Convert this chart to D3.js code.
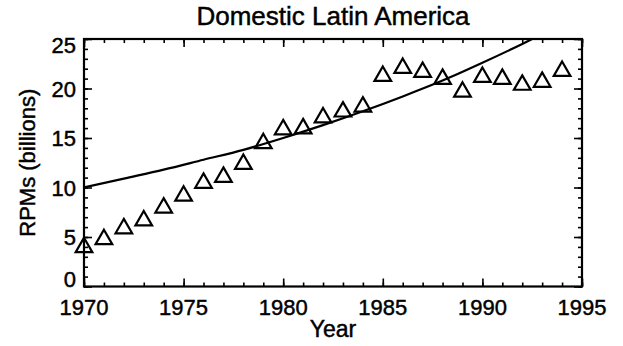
<!DOCTYPE html>
<html>
<head>
<meta charset="utf-8">
<script src="https://cdn.jsdelivr.net/npm/d3@7"></script>
<style>
  html, body { margin: 0; padding: 0; background: #fff; }
  svg { display: block; }
  text { font-family: "Liberation Sans", Arial, Helvetica, sans-serif; fill: #000; stroke: #000; stroke-width: 0.45px; }
</style>
</head>
<body>
<svg id="chart" width="623" height="346"></svg>
<script>
// ---- data ----
const years = [1970,1971,1972,1973,1974,1975,1976,1977,1978,1979,1980,1981,1982,1983,1984,1985,1986,1987,1988,1989,1990,1991,1992,1993,1994];
const rpms  = [4.2, 5.0, 6.1, 6.9, 8.2, 9.4, 10.7, 11.3, 12.6, 14.7, 16.1, 16.2, 17.3, 17.9, 18.4, 21.5, 22.3, 21.9, 21.2, 19.9, 21.4, 21.2, 20.6, 20.9, 22.0];
const fitYears  = [1970, 1972, 1974, 1976, 1978, 1980, 1982, 1984, 1986, 1988, 1990, 1992, 1993];
const fitValues = [10.0, 10.9, 11.8, 12.8, 13.8, 15.0, 16.3, 17.7, 19.2, 20.8, 22.6, 24.5, 25.5];
const xTicks = [1970, 1975, 1980, 1985, 1990, 1995];
const yTicks = [0, 5, 10, 15, 20, 25];
const titleText = "Domestic Latin America";
const xLabel = "Year";
const yLabel = "RPMs (billions)";

// ---- layout ----
const pL = 84, pR = 582, pT = 39, pB = 286.5;
const svg = d3.select("#chart");
const x = d3.scaleLinear().domain([1970, 1995]).range([pL, pR]);
const y = d3.scaleLinear().domain([0, 25]).range([pB, pT]);

svg.append("clipPath").attr("id", "plotclip")
  .append("rect").attr("x", pL).attr("y", pT).attr("width", pR - pL).attr("height", pB - pT);

// minor ticks
const xMinor = d3.range(1970, 1996, 1);
const yMinor = d3.range(0, 26, 1);

function tickGroup(axisGen, transform) {
  const g = svg.append("g").attr("transform", transform).call(axisGen);
  g.select(".domain").remove();
  g.selectAll("line").attr("stroke", "#000").attr("stroke-width", 1.6);
  g.selectAll("text").remove();
  return g;
}
tickGroup(d3.axisTop(x).tickValues(xMinor).tickSize(4), `translate(0,${pB})`);
tickGroup(d3.axisTop(x).tickValues(xTicks).tickSize(8), `translate(0,${pB})`);
tickGroup(d3.axisBottom(x).tickValues(xMinor).tickSize(4), `translate(0,${pT})`);
tickGroup(d3.axisBottom(x).tickValues(xTicks).tickSize(8), `translate(0,${pT})`);
tickGroup(d3.axisRight(y).tickValues(yMinor).tickSize(4), `translate(${pL},0)`);
tickGroup(d3.axisRight(y).tickValues(yTicks).tickSize(8), `translate(${pL},0)`);
tickGroup(d3.axisLeft(y).tickValues(yMinor).tickSize(4), `translate(${pR},0)`);
tickGroup(d3.axisLeft(y).tickValues(yTicks).tickSize(8), `translate(${pR},0)`);

// frame
svg.append("rect").attr("x", pL).attr("y", pT).attr("width", pR - pL).attr("height", pB - pT)
  .attr("fill", "none").attr("stroke", "#000").attr("stroke-width", 2.2);

// tick labels
svg.append("g").selectAll("text").data(xTicks).join("text")
  .attr("x", d => x(d)).attr("y", 315)
  .attr("text-anchor", "middle").attr("font-size", 22)
  .text(d => d);
svg.append("g").selectAll("text").data(yTicks).join("text")
  .attr("x", 76)
  .attr("y", d => Math.min(pB - 8, Math.max(pT + 6, y(d))) + 8)
  .attr("text-anchor", "end").attr("font-size", 22)
  .text(d => d);

// fitted curve
const line = d3.line().x((d, i) => x(fitYears[i])).y(d => y(d)).curve(d3.curveMonotoneX);
svg.append("path").datum(fitValues)
  .attr("d", line).attr("fill", "none").attr("stroke", "#000").attr("stroke-width", 2.2)
  .attr("clip-path", "url(#plotclip)");

// triangles (centred on bounding box like IDL psym=5)
const triSize = 120;
const triR = Math.sqrt(triSize / (Math.sqrt(3) * 3));
const tri = d3.symbol().type(d3.symbolTriangle).size(triSize);
svg.append("g").selectAll("path").data(rpms).join("path")
  .attr("transform", (d, i) => `translate(${x(years[i])},${y(d) + triR / 2})`)
  .attr("d", tri)
  .attr("fill", "none").attr("stroke", "#000").attr("stroke-width", 2.2);

// titles
svg.append("text").attr("x", (pL + pR) / 2).attr("y", 25)
  .attr("text-anchor", "middle").attr("font-size", 26).text(titleText);
svg.append("text").attr("x", (pL + pR) / 2).attr("y", 337)
  .attr("text-anchor", "middle").attr("font-size", 23).text(xLabel);
svg.append("text").attr("transform", `translate(35,${(pT + pB) / 2}) rotate(-90)`)
  .attr("text-anchor", "middle").attr("font-size", 22).text(yLabel);
</script>
</body>
</html>
